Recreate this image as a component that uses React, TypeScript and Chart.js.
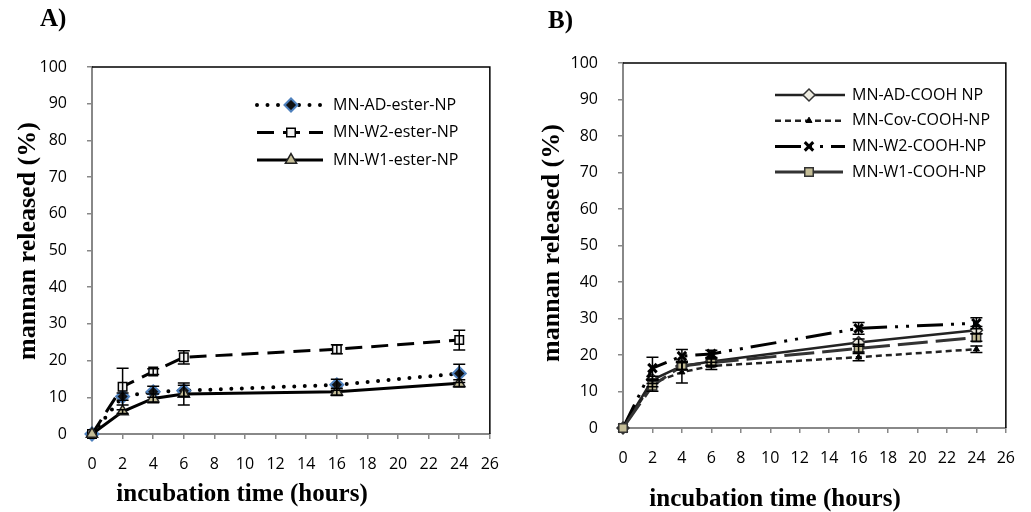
import React, { useEffect, useRef } from 'react';
import { Chart, registerables, PointElement } from 'chart.js';

Chart.register(...registerables);

// ---------- data ----------
const times = [0, 2, 4, 6, 16, 24];

// Panel A
const adEster = [0, 10.2, 11.5, 11.8, 13.4, 16.5];
const adEsterErr = [0, 1.0, 1.5, 1.5, 1.5, 2.5];
const w2Ester = [0, 12.9, 17.0, 20.9, 23.1, 25.6];
const w2EsterErr = [0, 5.0, 0.8, 1.8, 1.2, 2.7];
const w1Ester = [0, 6.1, 9.7, 10.9, 11.5, 13.8];
const w1EsterErr = [0, 0.5, 1.2, 3.0, 1.0, 1.0];

// Panel B
const adCooh = [0, 13.2, 17.0, 18.2, 23.4, 26.8];
const adCoohErr = [0, 1.0, 1.0, 1.0, 1.0, 1.0];
const covCooh = [0, 12.3, 15.3, 17.0, 19.4, 21.6];
const covCoohErr = [0, 1.0, 3.0, 1.0, 1.0, 0.9];
const w2Cooh = [0, 16.4, 19.7, 20.3, 27.3, 28.7];
const w2CoohErr = [0, 3.0, 1.8, 1.0, 1.6, 1.5];
const w1Cooh = [0, 11.6, 17.0, 17.9, 21.8, 24.8];
const w1CoohErr = [0, 1.5, 1.0, 1.0, 1.0, 1.0];

const labelsA = ['MN-AD-ester-NP', 'MN-W2-ester-NP', 'MN-W1-ester-NP'];
const labelsB = ['MN-AD-COOH NP', 'MN-Cov-COOH-NP', 'MN-W2-COOH-NP', 'MN-W1-COOH-NP'];

const xTitle = 'incubation time (hours)';
const yTitle = 'mannan released (%)';

const pts = (vals: number[]) => vals.map((v, i) => ({ x: times[i], y: v }));

// ---------- plugins ----------
const errorBars = {
  id: 'errorBars',
  afterDatasetsDraw(chart: any) {
    const ctx = chart.ctx;
    const ys = chart.scales.y;
    chart.data.datasets.forEach((ds: any, di: number) => {
      const meta = chart.getDatasetMeta(di);
      if (!ds.errors) return;
      ctx.save();
      ctx.strokeStyle = '#000';
      ctx.lineWidth = 1.5;
      ctx.setLineDash([]);
      meta.data.forEach((p: any, i: number) => {
        const e = ds.errors[i];
        if (!e) return;
        const v = ds.data[i].y;
        const top = ys.getPixelForValue(v + e);
        const bot = ys.getPixelForValue(v - e);
        ctx.beginPath();
        ctx.moveTo(p.x, top);
        ctx.lineTo(p.x, bot);
        ctx.moveTo(p.x - 6, top);
        ctx.lineTo(p.x + 6, top);
        ctx.moveTo(p.x - 6, bot);
        ctx.lineTo(p.x + 6, bot);
        ctx.stroke();
      });
      ctx.restore();
    });
  },
};

const frame = {
  id: 'frame',
  beforeDatasetsDraw(chart: any) {
    const { ctx, chartArea: a } = chart;
    ctx.save();
    ctx.strokeStyle = '#000';
    ctx.lineWidth = 1.5;
    ctx.beginPath();
    ctx.moveTo(a.left, a.top);
    ctx.lineTo(a.right, a.top);
    ctx.lineTo(a.right, a.bottom);
    ctx.stroke();
    ctx.restore();
  },
};

const customLegend = {
  id: 'customLegend',
  afterDraw(chart: any, _args: any, opts: any) {
    const ctx = chart.ctx;
    ctx.save();
    chart.data.datasets.forEach((ds: any, i: number) => {
      const y = opts.y0 + i * opts.dy;
      ctx.save();
      ctx.strokeStyle = ds.borderColor;
      ctx.lineWidth = ds.borderWidth;
      ctx.lineCap = ds.borderCapStyle || 'butt';
      ctx.setLineDash(ds.borderDash || []);
      ctx.beginPath();
      ctx.moveTo(opts.x0, y);
      ctx.lineTo(opts.x1, y);
      ctx.stroke();
      ctx.restore();
      const p: any = new PointElement({});
      p.x = opts.xm;
      p.y = y;
      p.options = {
        pointStyle: ds.pointStyle,
        radius: ds.pointRadius,
        borderWidth: ds.pointBorderWidth,
        backgroundColor: ds.pointBackgroundColor,
        borderColor: ds.pointBorderColor,
        rotation: 0,
      };
      ctx.save();
      ctx.setLineDash([]);
      p.draw(ctx);
      ctx.restore();
      ctx.fillStyle = '#000';
      ctx.font = '16px "Open Sans"';
      ctx.textBaseline = 'middle';
      ctx.textAlign = 'left';
      ctx.fillText(ds.label, opts.xt, y);
    });
    // panel letter
    ctx.fillStyle = '#000';
    ctx.textBaseline = 'middle';
    ctx.textAlign = 'left';
    ctx.font = 'bold 25px "Liberation Serif"';
    ctx.fillText(opts.letter, opts.lx, opts.ly);
    // axis titles
    ctx.textAlign = 'center';
    ctx.font = 'bold 25px "Liberation Serif"';
    ctx.fillText(xTitle, opts.xtx, opts.xty);
    ctx.save();
    ctx.translate(opts.ytx, opts.yty);
    ctx.rotate(-Math.PI / 2);
    ctx.font = 'bold 26px "Liberation Serif"';
    ctx.fillText(yTitle, 0, 0);
    ctx.restore();
    ctx.restore();
  },
};

// ---------- datasets ----------
const datasetsA = [
  {
    label: labelsA[0], data: pts(adEster), errors: adEsterErr,
    borderColor: '#000', borderWidth: 4, borderDash: [0, 10.5], borderCapStyle: 'round',
    pointStyle: 'rectRot', pointRadius: 6.5, pointBorderWidth: 2,
    pointBackgroundColor: '#111', pointBorderColor: '#4f81bd',
  },
  {
    label: labelsA[1], data: pts(w2Ester), errors: w2EsterErr,
    borderColor: '#000', borderWidth: 3, borderDash: [17, 9], borderCapStyle: 'butt',
    pointStyle: 'rect', pointRadius: 6, pointBorderWidth: 1.5,
    pointBackgroundColor: '#f2f2f2', pointBorderColor: '#000',
  },
  {
    label: labelsA[2], data: pts(w1Ester), errors: w1EsterErr,
    borderColor: '#000', borderWidth: 3, borderDash: [], borderCapStyle: 'butt',
    pointStyle: 'triangle', pointRadius: 6.5, pointBorderWidth: 1.5,
    pointBackgroundColor: '#c4bd97', pointBorderColor: '#222',
  },
];

const datasetsB = [
  {
    label: labelsB[0], data: pts(adCooh), errors: adCoohErr,
    borderColor: '#222', borderWidth: 2.5, borderDash: [], borderCapStyle: 'butt',
    pointStyle: 'rectRot', pointRadius: 6, pointBorderWidth: 1.5,
    pointBackgroundColor: '#eeece1', pointBorderColor: '#333',
  },
  {
    label: labelsB[1], data: pts(covCooh), errors: covCoohErr,
    borderColor: '#222', borderWidth: 2.5, borderDash: [6, 4], borderCapStyle: 'butt',
    pointStyle: 'triangle', pointRadius: 3.5, pointBorderWidth: 1,
    pointBackgroundColor: '#000', pointBorderColor: '#000',
  },
  {
    label: labelsB[2], data: pts(w2Cooh), errors: w2CoohErr,
    borderColor: '#000', borderWidth: 3, borderDash: [26, 8, 3, 8, 3, 8], borderCapStyle: 'butt',
    pointStyle: 'crossRot', pointRadius: 6, pointBorderWidth: 3,
    pointBackgroundColor: '#000', pointBorderColor: '#000',
  },
  {
    label: labelsB[3], data: pts(w1Cooh), errors: w1CoohErr,
    borderColor: '#333', borderWidth: 3, borderDash: [30, 8], borderCapStyle: 'butt',
    pointStyle: 'rect', pointRadius: 6, pointBorderWidth: 1.5,
    pointBackgroundColor: '#c4bd97', pointBorderColor: '#333',
  },
];

// ---------- config ----------
function makeConfig(p: any) {
  const axisGray = '#888';
  const n = p.datasets.length;
  return {
    type: 'line',
    data: { datasets: p.datasets.map((d: any, i: number) => ({ ...d, clip: false, order: n - i })) },
    plugins: [frame, errorBars, customLegend],
    options: {
      animation: false,
      responsive: false,
      maintainAspectRatio: false,
      layout: { padding: { left: 0, right: p.padRight, top: p.top, bottom: 0 } },
      elements: { line: { tension: 0 } },
      plugins: {
        legend: { display: false },
        tooltip: { enabled: false },
        customLegend: p.legend,
      },
      scales: {
        x: {
          type: 'linear', min: 0, max: 26,
          ticks: { stepSize: 2, color: '#000', font: { family: 'Open Sans', size: 16 }, padding: 16, maxRotation: 0, autoSkip: false },
          grid: { drawOnChartArea: false, drawTicks: true, tickLength: 5, color: axisGray, lineWidth: 1.5 },
          border: { color: axisGray, width: 2 },
          title: { display: false },
          afterFit: (s: any) => { s.height = p.xHeight; },
        },
        y: {
          min: 0, max: 100,
          ticks: { stepSize: 10, color: '#000', font: { family: 'Open Sans', size: 16 }, padding: 20 },
          grid: { drawOnChartArea: false, drawTicks: true, tickLength: 5, color: axisGray, lineWidth: 1.5 },
          border: { color: axisGray, width: 2 },
          title: { display: false },
          afterFit: (s: any) => { s.width = p.yWidth; },
        },
      },
    },
  };
}

const panelA = {
  datasets: datasetsA, top: 67, padRight: 515 - 492, xHeight: 512 - 434, yWidth: 92,
  legend: {
    x0: 257, x1: 323, xm: 291, xt: 333, y0: 105, dy: 27.5,
    letter: 'A)', lx: 40, ly: 20,
    xtx: 242, xty: 495, ytx: 28, yty: 241,
  },
};

const panelB = {
  datasets: datasetsB, top: 63, padRight: 516 - 503, xHeight: 512 - 428, yWidth: 108,
  legend: {
    x0: 260, x1: 330, xm: 294, xt: 337, y0: 95, dy: 25.7,
    letter: 'B)', lx: 33, ly: 22,
    xtx: 260, xty: 500, ytx: 37, yty: 243,
  },
};

function Panel({ cfg, left, width }: { cfg: any; left: number; width: number }) {
  const ref = useRef<HTMLCanvasElement | null>(null);
  useEffect(() => {
    if (!ref.current) return;
    const chart = new Chart(ref.current, makeConfig(cfg) as any);
    return () => chart.destroy();
  }, []);
  return (
    <div style={{ position: 'absolute', left, top: 0, width, height: 512 }}>
      <canvas ref={ref} width={width} height={512} style={{ width, height: 512, display: 'block' }} />
    </div>
  );
}

export default function App() {
  return (
    <div style={{ position: 'fixed', left: 0, top: 0, width: 1031, height: 512, background: '#fff' }}>
      <Panel cfg={panelA} left={0} width={515} />
      <Panel cfg={panelB} left={515} width={516} />
    </div>
  );
}
